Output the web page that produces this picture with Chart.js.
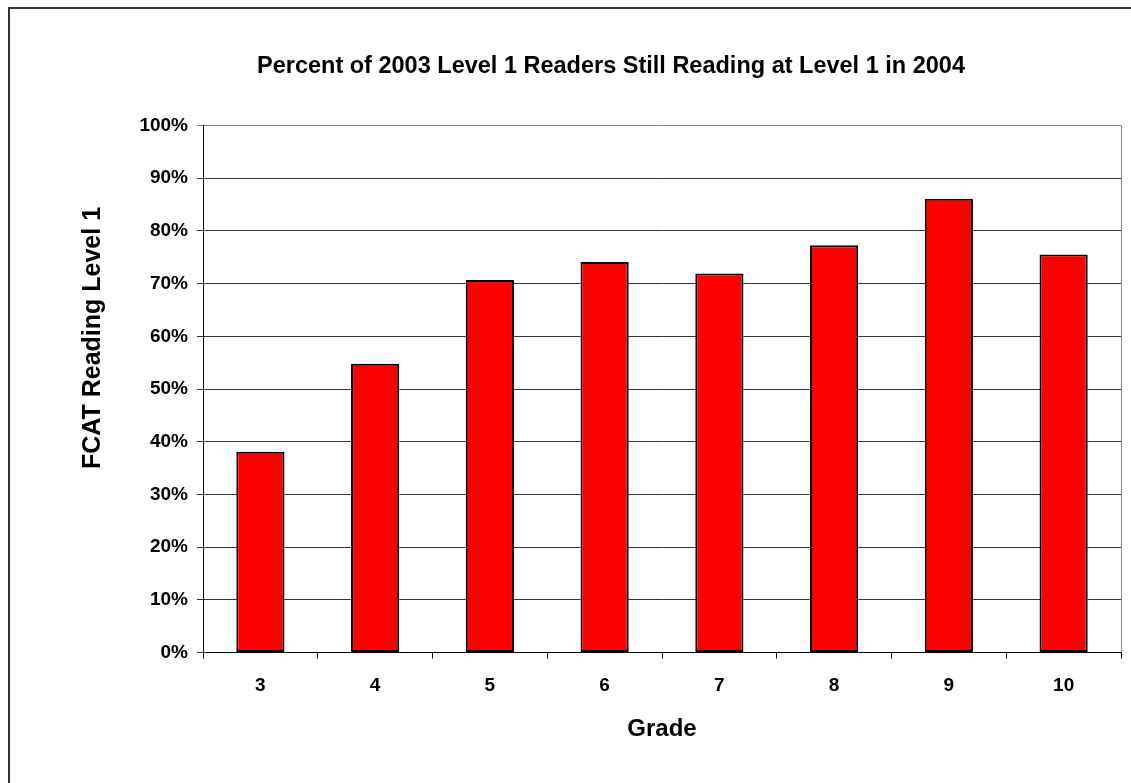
<!DOCTYPE html>
<html>
<head>
<meta charset="utf-8">
<script src="https://cdn.jsdelivr.net/npm/chart.js@4.4.1/dist/chart.umd.min.js"></script>
<style>
    html, body { margin: 0; padding: 0; background: #fff; overflow: hidden; }
    #wrap { position: relative; width: 1131px; height: 783px; overflow: hidden; }
    #frame { position: absolute; left: 8px; top: 7px; width: 1300px; height: 900px;
             border-left: 2px solid #333; border-top: 2px solid #333; }
    canvas { position: absolute; left: 0; top: 0; }
</style>
</head>
<body>
<div id="wrap">
    <div id="frame"></div>
    <canvas id="gradeChart" width="1131" height="783"></canvas>
</div>
<script>
// grades on the x axis
const grades = ['3', '4', '5', '6', '7', '8', '9', '10'];
// percent of 2003 level 1 readers still at level 1 in 2004
const stillLevel1 = [38.1, 54.8, 70.7, 74.1, 71.9, 77.3, 86.1, 75.5];
// y axis ticks
const yTicks = [0, 10, 20, 30, 40, 50, 60, 70, 80, 90, 100];

const chartTitle = 'Percent of 2003 Level 1 Readers Still Reading at Level 1 in 2004';
const xTitle = 'Grade';
const yTitle = 'FCAT Reading Level 1';

const fontFam = '"Liberation Sans", Arial, Helvetica, sans-serif';

//draws the title, the rotated y title and the grey right edge of the plot
//(the title sits off centre of the plot in the original, so it's drawn by hand)
const extras = {
    id: 'extras',
    afterDraw(chart) {
        const c = chart.ctx;
        const a = chart.chartArea;
        c.save();
        c.strokeStyle = '#888';
        c.lineWidth = 1;
        c.beginPath();
        c.moveTo(Math.round(a.right) + 0.5, a.top);
        c.lineTo(Math.round(a.right) + 0.5, a.bottom);
        c.stroke();

        c.fillStyle = '#000';
        c.textAlign = 'center';
        c.textBaseline = 'middle';
        c.font = 'bold 23.5px ' + fontFam;
        c.fillText(chartTitle, 611, 67);

        c.translate(93, 338);
        c.rotate(-Math.PI / 2);
        c.font = 'bold 25px ' + fontFam;
        c.fillText(yTitle, 0, 0);
        c.restore();
    }
};

const ctx = document.getElementById('gradeChart');
let chr = new Chart(ctx, {
    type: 'bar',
    data: {
        labels: grades,
        datasets: [{
            label: 'Level 1',
            data: stillLevel1,
            backgroundColor: '#ff0000',
            borderColor: '#000',
            borderWidth: 2,
            borderSkipped: false,
            barPercentage: 0.42,
            categoryPercentage: 1.0
        }]
    },
    options: {
        responsive: false,
        animation: false,
        layout: { padding: { left: 0, right: 10, top: 125.5, bottom: 0 } },
        plugins: {
            legend: { display: false },
            tooltip: { enabled: false },
            title: { display: false }
        },
        scales: {
            x: {
                offset: true,
                grid: {
                    offset: true,
                    drawOnChartArea: false,
                    tickLength: 6,
                    color: '#000'
                },
                border: { color: '#000', width: 1 },
                ticks: {
                    color: '#000',
                    padding: 16,
                    font: { family: fontFam, size: 19, weight: 'bold' }
                },
                title: {
                    display: true,
                    text: xTitle,
                    color: '#000',
                    font: { family: fontFam, size: 24, weight: 'bold' },
                    padding: { top: 0, bottom: 39 }
                },
                afterFit(scale) { scale.height = 130.5; }
            },
            y: {
                min: 0,
                max: 100,
                grid: {
                    tickLength: 6,
                    color: (c) => c.tick && c.tick.value === 100 ? '#888' : '#333'
                },
                border: { color: '#000', width: 1 },
                afterBuildTicks(scale) {
                    scale.ticks = yTicks.map(v => ({ value: v }));
                },
                ticks: {
                    color: '#000',
                    padding: 9,
                    font: { family: fontFam, size: 19, weight: 'bold' },
                    callback: (v) => v + '%'
                },
                afterFit(scale) { scale.width = 203; }
            }
        }
    },
    plugins: [extras]
});
</script>
</body>
</html>
